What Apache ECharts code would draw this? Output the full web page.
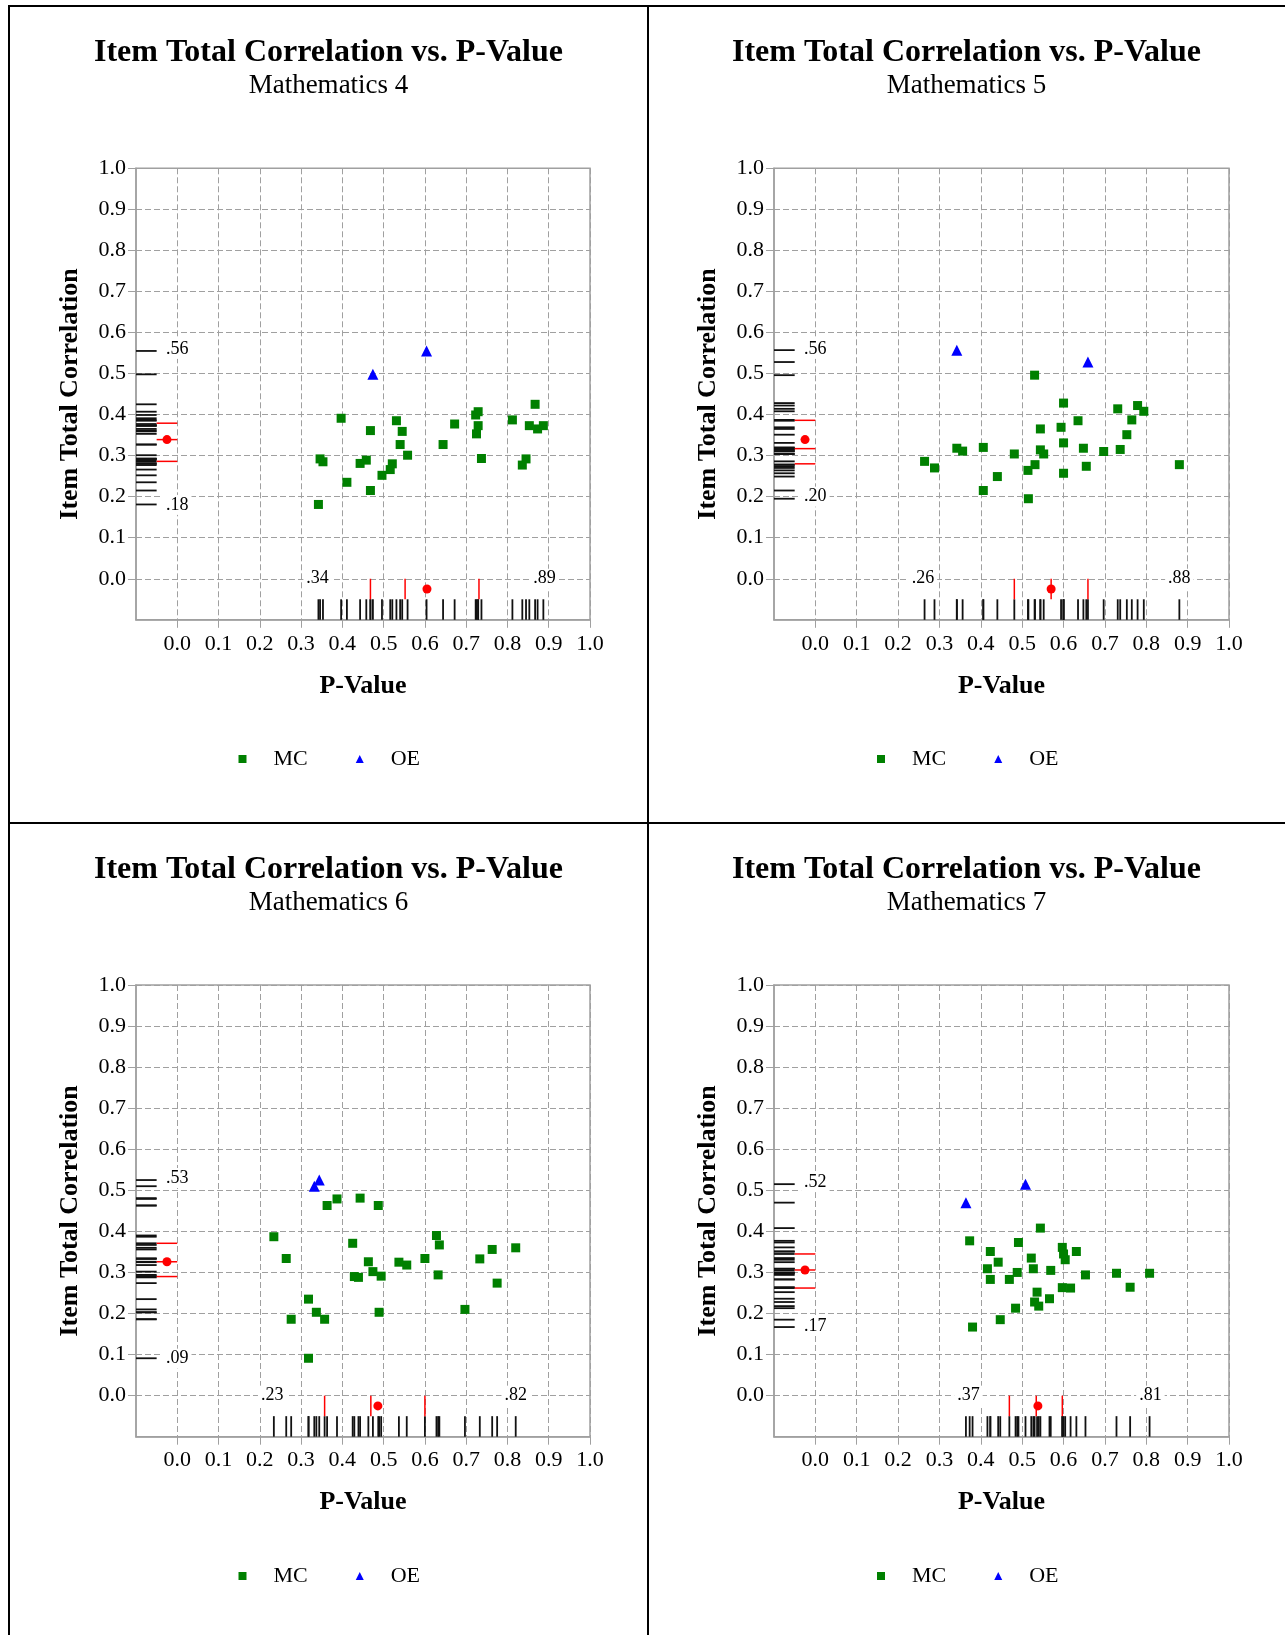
<!DOCTYPE html>
<html>
<head>
<meta charset="utf-8">
<script src="https://cdn.jsdelivr.net/npm/echarts/dist/echarts.min.js"></script>
<style>
html,body{margin:0;padding:0;background:#fff;}
#chart{width:1285px;height:1635px;}
</style>
</head>
<body>
<div id="chart"></div>
<script>
// ---------------- DATA ----------------
const tickValues = [0.0, 0.1, 0.2, 0.3, 0.4, 0.5, 0.6, 0.7, 0.8, 0.9, 1.0];
const titleText = 'Item Total Correlation vs. P-Value';
const subtitles = ['Mathematics 4', 'Mathematics 5', 'Mathematics 6', 'Mathematics 7'];
const xAxisName = 'P-Value';
const yAxisName = 'Item Total Correlation';
const seriesNames = ['MC', 'OE'];

// [P-Value, Item Total Correlation]
const math4MC = [[0.397,0.391],[0.468,0.361],[0.531,0.385],[0.545,0.359],[0.540,0.327],[0.558,0.301],[0.346,0.292],[0.353,0.285],[0.443,0.281],[0.458,0.289],[0.521,0.280],[0.516,0.266],[0.496,0.252],[0.411,0.235],[0.468,0.215],[0.342,0.181],[0.644,0.327],[0.672,0.377],[0.729,0.407],[0.723,0.399],[0.729,0.373],[0.725,0.353],[0.737,0.293],[0.812,0.387],[0.867,0.425],[0.853,0.373],[0.873,0.365],[0.887,0.373],[0.845,0.292],[0.836,0.277]];
const math4OE = [[0.474,0.498],[0.604,0.555]];
const math5MC = [[0.264,0.286],[0.288,0.270],[0.342,0.318],[0.356,0.311],[0.406,0.320],[0.406,0.215],[0.440,0.249],[0.481,0.304],[0.514,0.264],[0.531,0.278],[0.515,0.195],[0.530,0.496],[0.544,0.365],[0.544,0.314],[0.552,0.304],[0.594,0.369],[0.600,0.428],[0.600,0.331],[0.600,0.257],[0.635,0.385],[0.648,0.318],[0.655,0.274],[0.697,0.310],[0.731,0.414],[0.737,0.315],[0.753,0.351],[0.765,0.387],[0.779,0.422],[0.794,0.408],[0.880,0.278]];
const math5OE = [[0.342,0.557],[0.659,0.528]];
const math6MC = [[0.234,0.387],[0.264,0.334],[0.276,0.186],[0.318,0.235],[0.318,0.091],[0.337,0.203],[0.357,0.186],[0.363,0.463],[0.387,0.479],[0.425,0.371],[0.443,0.481],[0.429,0.290],[0.439,0.288],[0.463,0.326],[0.474,0.302],[0.494,0.291],[0.487,0.463],[0.489,0.203],[0.537,0.325],[0.556,0.318],[0.600,0.334],[0.628,0.390],[0.635,0.367],[0.632,0.294],[0.697,0.210],[0.733,0.333],[0.763,0.356],[0.775,0.274],[0.820,0.360]];
const math6OE = [[0.332,0.510],[0.344,0.525]];
const math7MC = [[0.373,0.377],[0.380,0.167],[0.423,0.351],[0.442,0.325],[0.416,0.309],[0.423,0.283],[0.447,0.185],[0.469,0.283],[0.488,0.300],[0.491,0.373],[0.484,0.213],[0.522,0.335],[0.527,0.309],[0.544,0.408],[0.536,0.252],[0.530,0.228],[0.540,0.218],[0.566,0.236],[0.569,0.305],[0.597,0.361],[0.600,0.345],[0.604,0.331],[0.597,0.263],[0.617,0.262],[0.631,0.351],[0.653,0.294],[0.728,0.298],[0.761,0.264],[0.808,0.298]];
const math7OE = [[0.364,0.470],[0.508,0.515]];

// summary marks: [Q1, median, Q3, mean]
const math4StatsX = [0.468, 0.552, 0.731, 0.605];
const math4StatsY = [0.286, 0.339, 0.379, 0.339];
const math5StatsX = [0.481, 0.570, 0.659, 0.570];
const math5StatsY = [0.280, 0.317, 0.386, 0.339];
const math6StatsX = [0.357, 0.469, 0.600, 0.486];
const math6StatsY = [0.290, 0.326, 0.371, 0.326];
const math7StatsX = [0.469, 0.534, 0.597, 0.538];
const math7StatsY = [0.262, 0.306, 0.345, 0.306];

// min / max labels
const math4RangeX = [0.34, 0.89]; const math4RangeY = [0.18, 0.56];
const math5RangeX = [0.26, 0.88]; const math5RangeY = [0.20, 0.56];
const math6RangeX = [0.23, 0.82]; const math6RangeY = [0.09, 0.53];
const math7RangeX = [0.37, 0.81]; const math7RangeY = [0.17, 0.52];

// ---------------- STYLE / LAYOUT ----------------
const FONT = '"Liberation Serif", "Times New Roman", serif';
const AXIS_MIN = -0.1, AXIS_MAX = 1.0;
const RUG_END = -0.05, STAT_END = 0.0, DOT_POS = -0.025;
const GRAY = '#a0a0a0';

const panels = [
  {mc: math4MC, oe: math4OE, sx: math4StatsX, sy: math4StatsY, rx: math4RangeX, ry: math4RangeY, sub: subtitles[0],
   grid: {left: 136, top: 168.3, width: 454, height: 451.5}, cx: 328.5, ty: 53, legendLeft: 238.5, legendTop: 748},
  {mc: math5MC, oe: math5OE, sx: math5StatsX, sy: math5StatsY, rx: math5RangeX, ry: math5RangeY, sub: subtitles[1],
   grid: {left: 774, top: 168.3, width: 455, height: 451.5}, cx: 966.5, ty: 53, legendLeft: 877, legendTop: 748},
  {mc: math6MC, oe: math6OE, sx: math6StatsX, sy: math6StatsY, rx: math6RangeX, ry: math6RangeY, sub: subtitles[2],
   grid: {left: 136, top: 985, width: 454, height: 451.7}, cx: 328.5, ty: 870, legendLeft: 238.5, legendTop: 1565},
  {mc: math7MC, oe: math7OE, sx: math7StatsX, sy: math7StatsY, rx: math7RangeX, ry: math7RangeY, sub: subtitles[3],
   grid: {left: 774, top: 985, width: 455, height: 451.7}, cx: 966.5, ty: 870, legendLeft: 877, legendTop: 1565}
];

function fmtShort(v) { return v.toFixed(2).replace(/^0/, ''); }

function rugSeries(i, values, dir, from, to, color, width) {
  return {
    type: 'custom', xAxisIndex: i, yAxisIndex: i, silent: true, z: 4,
    data: values.map(v => [v, v]),
    renderItem: function (params, api) {
      const v = api.value(0);
      const a = dir === 'x' ? api.coord([v, from]) : api.coord([from, v]);
      const b = dir === 'x' ? api.coord([v, to]) : api.coord([to, v]);
      return {type: 'line', shape: {x1: a[0], y1: a[1], x2: b[0], y2: b[1]},
              style: {stroke: color, lineWidth: width}};
    }
  };
}
function dotSeries(i, value, dir) {
  return {
    type: 'custom', xAxisIndex: i, yAxisIndex: i, silent: true, z: 6,
    data: [[value, value]],
    renderItem: function (params, api) {
      const v = api.value(0);
      const p = dir === 'x' ? api.coord([v, DOT_POS]) : api.coord([DOT_POS, v]);
      return {type: 'circle', shape: {cx: p[0], cy: p[1], r: 4.5}, style: {fill: '#ff0000'}};
    }
  };
}
function labelSeries(i, values, dir) {
  return {
    type: 'custom', xAxisIndex: i, yAxisIndex: i, silent: true, z: 7,
    data: values.map(v => [v, v]),
    renderItem: function (params, api) {
      const v = api.value(0);
      const p = dir === 'x' ? api.coord([v, STAT_END]) : api.coord([STAT_END, v]);
      return {type: 'text', x: p[0], y: p[1],
              style: {text: fmtShort(v), font: '18px ' + FONT, fill: '#000',
                      align: 'center', verticalAlign: 'middle',
                      backgroundColor: '#fff', padding: [1, 3]}};
    }
  };
}

const option = {
  animation: false,
  backgroundColor: '#fff',
  title: [], legend: [], grid: [], xAxis: [], yAxis: [], series: [],
  graphic: [
    {type: 'line', shape: {x1: 8, y1: 6, x2: 1285, y2: 6}, style: {stroke: '#000', lineWidth: 2}},
    {type: 'line', shape: {x1: 9, y1: 5, x2: 9, y2: 1635}, style: {stroke: '#000', lineWidth: 2}},
    {type: 'line', shape: {x1: 648, y1: 5, x2: 648, y2: 1635}, style: {stroke: '#000', lineWidth: 2}},
    {type: 'line', shape: {x1: 9, y1: 823, x2: 1285, y2: 823}, style: {stroke: '#000', lineWidth: 2}}
  ]
};

panels.forEach(function (p, i) {
  option.title.push({text: titleText, left: p.cx, top: p.ty, textAlign: 'center', textVerticalAlign: 'middle', padding: 0,
    textStyle: {fontFamily: FONT, fontSize: 32, fontWeight: 'bold', color: '#000'}});
  option.title.push({text: p.sub, left: p.cx, top: p.ty + 33, textAlign: 'center', textVerticalAlign: 'middle', padding: 0,
    textStyle: {fontFamily: FONT, fontSize: 27, fontWeight: 'normal', color: '#000'}});
  option.legend.push({left: p.legendLeft, top: p.legendTop, padding: 0, itemWidth: 8, itemHeight: 8, itemGap: 48,
    selectedMode: false,
    data: [{name: seriesNames[0], icon: 'rect'}, {name: seriesNames[1], icon: 'triangle'}],
    textStyle: {fontFamily: FONT, fontSize: 22, color: '#000', padding: [0, 0, 0, 22]}});
  option.grid.push(Object.assign({show: true, borderColor: GRAY, borderWidth: 1.5, backgroundColor: '#fff'}, p.grid));
  const axisCommon = {
    type: 'value', min: AXIS_MIN, max: AXIS_MAX, interval: 0.1, gridIndex: i,
    nameLocation: 'middle',
    nameTextStyle: {fontFamily: FONT, fontSize: 26, fontWeight: 'bold', color: '#000'},
    axisLine: {show: true, onZero: false, lineStyle: {color: GRAY, width: 1.5}},
    axisTick: {show: true, length: 8, customValues: tickValues, lineStyle: {color: GRAY, width: 1}},
    axisLabel: {customValues: tickValues, fontFamily: FONT, fontSize: 22, color: '#000',
                formatter: v => v.toFixed(1)},
    splitLine: {show: true, lineStyle: {color: GRAY, width: 1, type: [6, 3]}}
  };
  option.xAxis.push(Object.assign({}, axisCommon, {name: xAxisName, nameGap: 53,
    axisLabel: Object.assign({}, axisCommon.axisLabel, {margin: 13})}));
  option.yAxis.push(Object.assign({}, axisCommon, {name: yAxisName, nameGap: 53,
    axisLabel: Object.assign({}, axisCommon.axisLabel, {margin: 10})}));

  option.series.push({name: seriesNames[0], type: 'scatter', xAxisIndex: i, yAxisIndex: i, z: 5,
    symbol: 'rect', symbolSize: 9, itemStyle: {color: '#008000', opacity: 1}, data: p.mc});
  option.series.push({name: seriesNames[1], type: 'scatter', xAxisIndex: i, yAxisIndex: i, z: 5,
    symbol: 'triangle', symbolSize: 11, itemStyle: {color: '#0000ff', opacity: 1}, data: p.oe});

  const allX = p.mc.map(d => d[0]).concat(p.oe.map(d => d[0]));
  const allY = p.mc.map(d => d[1]).concat(p.oe.map(d => d[1]));
  option.series.push(rugSeries(i, allX, 'x', AXIS_MIN, RUG_END, '#111', 1.8));
  option.series.push(rugSeries(i, allY, 'y', AXIS_MIN, RUG_END, '#111', 1.8));
  option.series.push(rugSeries(i, p.sx.slice(0, 3), 'x', RUG_END, STAT_END, '#ff0000', 1.5));
  option.series.push(rugSeries(i, p.sy.slice(0, 3), 'y', RUG_END, STAT_END, '#ff0000', 1.5));
  option.series.push(dotSeries(i, p.sx[3], 'x'));
  option.series.push(dotSeries(i, p.sy[3], 'y'));
  option.series.push(labelSeries(i, p.rx, 'x'));
  option.series.push(labelSeries(i, p.ry, 'y'));
});

const chart = echarts.init(document.getElementById('chart'), null, {renderer: 'canvas'});
chart.setOption(option);
</script>
</body>
</html>
